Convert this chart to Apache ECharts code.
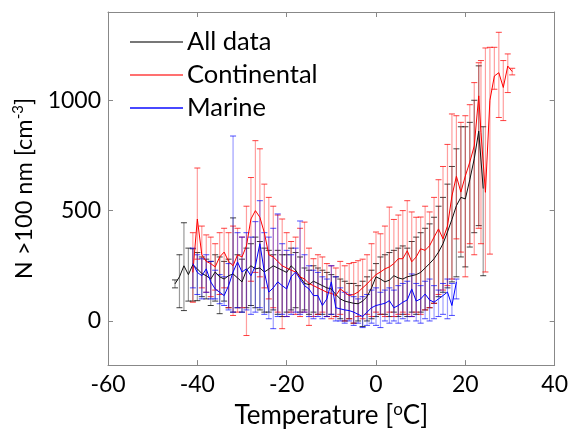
<!DOCTYPE html>
<html>
<head>
<meta charset="utf-8">
<script src="https://cdn.jsdelivr.net/npm/echarts@6/dist/echarts.min.js"></script>
<style>html,body{margin:0;padding:0;background:#fff}#c{width:571px;height:434px}</style>
</head>
<body>
<div id="c"></div>
<script>
// ---- All data (black) ----
var tAll = [-45,-44,-43,-42,-41,-40,-39,-38,-37,-36,
  -35,-34,-33,-32,-31,-30,-29,-28,-27,-26,
  -25,-24,-23,-22,-21,-20,-19,-18,-17,-16,
  -15,-14,-13,-12,-11,-10,-9,-8,-7,-6,
  -5,-4,-3,-2,-1,0,1,2,3,4,
  5,6,7,8,9,10,11,12,13,14,
  15,16,17,18,19,20,21,22,23,24];
var meanAll = [168,200,250,210,255,236,215,205,190,222,
  200,190,205,213,195,177,230,250,236,240,
  222,235,250,240,230,220,250,230,200,170,
  165,180,170,160,150,145,120,100,90,85,
  80,78,90,110,150,200,190,177,185,205,
  195,190,200,205,210,220,240,260,282,312,
  350,403,460,522,560,553,640,735,860,600];
var lowAll = [150,60,47,90,90,92,110,100,70,90,
  33,90,60,40,60,40,60,70,60,50,
  40,40,50,30,20,40,50,60,40,50,
  30,40,30,30,20,30,20,10,0,10,
  -10,0,-25,0,10,20,30,30,20,40,
  20,30,20,40,30,40,50,60,80,110,
  130,150,177,200,290,245,335,400,432,205];
var highAll = [186,300,445,330,327,310,290,280,270,300,
  290,270,280,467,300,280,330,350,380,360,
  330,320,300,320,300,300,330,310,290,240,
  230,250,240,230,220,210,200,190,180,170,
  170,160,180,200,230,260,290,300,310,320,
  330,340,330,360,380,400,420,440,470,520,
  560,620,700,780,880,880,900,1000,1156,880];

// ---- Continental (red) ----
var tCont = [-41,-40,-39,-38,-37,-36,-35,-34,-33,-32,
  -31,-30,-29,-28,-27,-26,-25,-24,-23,-22,
  -21,-20,-19,-18,-17,-16,-15,-14,-13,-12,
  -11,-10,-9,-8,-7,-6,-5,-4,-3,-2,
  -1,0,1,2,3,4,5,6,7,8,
  9,10,11,12,13,14,15,16,17,18,
  19,20,21,22,
  23,23.5,24.5,25.5,26.5,27.5,28.5,29.5,30.5];
var meanCont = [220,462,300,270,260,245,290,312,270,250,
  300,290,340,462,500,470,400,300,290,270,
  250,240,230,222,200,190,170,160,150,140,
  130,125,115,145,130,115,120,131,150,168,
  190,210,222,236,245,260,282,282,318,268,
  290,327,320,341,380,417,372,430,566,656,
  584,657,720,793,
  1020,855,583,1000,1110,1125,1058,1155,1130];
var lowCont = [85,280,150,130,110,140,120,150,60,25,
  40,60,-66,180,220,200,150,100,60,40,
  -35,20,40,30,20,40,-20,20,30,40,
  20,10,20,30,0,10,-10,20,10,30,
  20,40,30,20,40,20,30,40,30,20,
  40,30,50,60,80,120,140,160,190,372,
  312,200,350,300,
  420,350,222,303,1050,922,908,1035,1115];
var highCont = [400,693,430,390,380,350,400,420,400,430,
  420,380,520,650,817,780,620,560,520,480,
  462,400,360,380,420,448,330,282,300,290,
  260,250,240,270,250,260,265,273,280,300,
  350,403,395,430,516,460,480,500,545,494,
  470,471,520,494,560,640,700,800,938,930,
  900,930,980,1080,
  1170,1180,1237,1240,1240,1308,1180,1210,1145];

// ---- Marine (blue) ----
var tMar = [-41,-40,-39,-38,-37,-36,-35,-34,-33,-32,
  -31,-30,-29,-28,-27,-26,-25,-24,-23,-22,
  -21,-20,-19,-18,-17,-16,-15,-14,-13,-12,
  -11,-10,-9,-8,-7,-6,-5,-4,-3,-2,
  -1,0,1,2,3,4,5,6,7,8,
  9,10,11,12,13,14,15,16,17,18];
var meanMar = [260,220,205,236,177,145,130,115,160,222,
  267,222,236,205,250,350,222,131,150,177,
  160,145,200,222,190,160,145,115,115,70,
  100,177,60,55,50,47,40,30,20,40,
  60,70,75,80,92,60,70,85,95,145,
  90,100,122,95,85,100,115,131,70,177];
var lowMar = [150,120,100,130,100,100,78,70,50,40,
  60,40,50,30,40,60,30,10,-35,20,
  30,20,30,40,30,40,20,10,20,10,
  20,30,0,0,-10,0,-20,-10,-30,-20,
  -10,-20,-30,0,-10,0,-10,10,0,20,
  0,-10,10,0,10,20,30,10,25,100];
var highMar = [330,300,282,300,270,230,210,200,260,838,
  400,380,400,380,450,545,400,380,420,485,
  350,320,300,330,453,300,250,230,220,200,
  190,250,200,150,130,120,110,100,110,120,
  140,150,130,140,150,140,160,170,180,213,
  170,160,180,190,160,140,170,190,170,190];

var xTicks = [-60,-40,-20,0,20,40];
var yTicks = [0,500,1000];

var FONT = 'Lato';

function zip2(t, v){ return t.map(function(x,i){ return [x, v[i]]; }); }
function zip3(t, lo, hi){ return t.map(function(x,i){ return [x, lo[i], hi[i]]; }); }

function errRender(barColor, capColor){
  return function(params, api){
    var x = api.value(0), lo = api.value(1), hi = api.value(2);
    var pL = api.coord([x, lo]), pH = api.coord([x, hi]);
    var hw = 3;
    return {type:'group', children:[
      {type:'line', shape:{x1:pL[0],y1:pL[1],x2:pH[0],y2:pH[1]}, style:{stroke:barColor,lineWidth:1.2}},
      {type:'line', shape:{x1:pL[0]-hw,y1:pL[1],x2:pL[0]+hw,y2:pL[1]}, style:{stroke:capColor,lineWidth:1}},
      {type:'line', shape:{x1:pH[0]-hw,y1:pH[1],x2:pH[0]+hw,y2:pH[1]}, style:{stroke:capColor,lineWidth:1}}
    ]};
  };
}

var axisLineStyle = {color:'#888', width:1};
var labelStyle = {fontFamily:FONT, fontSize:23, color:'#000'};
function plain(v){ return String(v); }

var chart = echarts.init(document.getElementById('c'), null, {renderer:'canvas'});
chart.setOption({
  animation:false,
  backgroundColor:'#fff',
  grid:{left:108, right:13, top:12, bottom:68, containLabel:false},
  legend:{
    orient:'vertical', left:130, top:29, padding:0, itemWidth:53, itemHeight:2, itemGap:7,
    icon:'rect',
    textStyle:{fontFamily:FONT, fontSize:25.5, color:'#000', lineHeight:26, padding:[0,0,0,-1]},
    data:[
      {name:'All data', itemStyle:{color:'#777'}},
      {name:'Continental', itemStyle:{color:'#ff7070'}},
      {name:'Marine', itemStyle:{color:'#4848ff'}}
    ]
  },
  xAxis:[{
    type:'value', min:-60, max:40, interval:20, position:'bottom',
    axisLine:{show:true, onZero:false, lineStyle:axisLineStyle},
    axisTick:{show:true, inside:true, length:5, lineStyle:axisLineStyle},
    axisLabel:Object.assign({margin:8, formatter:plain}, labelStyle),
    splitLine:{show:false},
    name:'{n|Temperature [}{s|o}{n|C]}', nameLocation:'middle', nameGap:33,
    nameTextStyle:{rich:{
      n:{fontFamily:FONT, fontSize:26, color:'#000', lineHeight:30},
      s:{fontFamily:FONT, fontSize:17, color:'#000', lineHeight:14, verticalAlign:'top'}
    }}
  },{
    type:'value', min:-60, max:40, interval:20, position:'top',
    axisLine:{show:true, onZero:false, lineStyle:axisLineStyle},
    axisTick:{show:true, inside:true, length:5, lineStyle:axisLineStyle},
    axisLabel:{show:false}, splitLine:{show:false}
  }],
  yAxis:[{
    type:'value', min:-200, max:1400, position:'left',
    axisLine:{show:true, onZero:false, lineStyle:axisLineStyle},
    axisTick:{show:true, inside:true, length:5, lineStyle:axisLineStyle, customValues:yTicks},
    axisLabel:Object.assign({margin:7, customValues:yTicks, formatter:plain}, labelStyle),
    splitLine:{show:false},
    name:'{n|N >100 nm [cm}{s|-3}{n|]}', nameLocation:'middle', nameGap:60, nameRotate:90,
    nameTextStyle:{rich:{
      n:{fontFamily:FONT, fontSize:23.5, color:'#000', lineHeight:28},
      s:{fontFamily:FONT, fontSize:15, color:'#000', lineHeight:14, verticalAlign:'top'}
    }}
  },{
    type:'value', min:-200, max:1400, position:'right',
    axisLine:{show:true, onZero:false, lineStyle:axisLineStyle},
    axisTick:{show:true, inside:true, length:5, lineStyle:axisLineStyle, customValues:yTicks},
    axisLabel:{show:false}, splitLine:{show:false}
  }],
  series:[
    {type:'custom', name:'errAll', z:2, renderItem:errRender('rgba(0,0,0,0.4)','rgba(0,0,0,0.75)'), data:zip3(tAll, lowAll, highAll)},
    {type:'custom', name:'errCont', z:2, renderItem:errRender('rgba(255,0,0,0.38)','rgba(255,0,0,0.75)'), data:zip3(tCont, lowCont, highCont)},
    {type:'custom', name:'errMar', z:2, renderItem:errRender('rgba(0,0,255,0.38)','rgba(0,0,255,0.7)'), data:zip3(tMar, lowMar, highMar)},
    {type:'line', name:'All data', z:3, showSymbol:false, color:'#000', lineStyle:{color:'#111', width:1}, data:zip2(tAll, meanAll)},
    {type:'line', name:'Continental', z:3, showSymbol:false, color:'#f00', lineStyle:{color:'#f00', width:1}, data:zip2(tCont, meanCont)},
    {type:'line', name:'Marine', z:3, showSymbol:false, color:'#00f', lineStyle:{color:'#00f', width:1}, data:zip2(tMar, meanMar)}
  ]
});
</script>
</body>
</html>
